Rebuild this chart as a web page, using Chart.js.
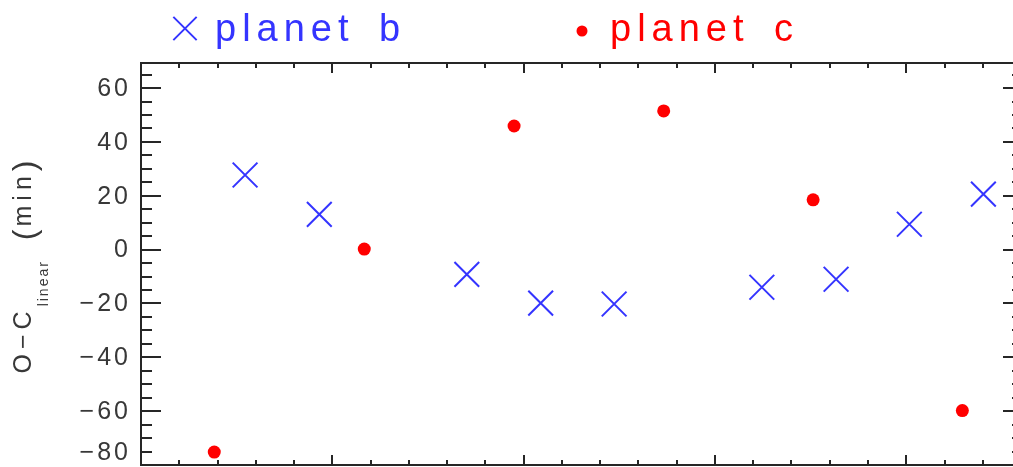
<!DOCTYPE html>
<html><head><meta charset="utf-8">
<script src="https://cdn.jsdelivr.net/npm/chart.js@4.4.1/dist/chart.umd.min.js"></script>
<style>html,body{margin:0;padding:0;overflow:hidden;background:#fff;width:1013px;height:467px}canvas{display:block}</style>
</head><body>
<canvas id="c" width="1030" height="467"></canvas>
<script>
// ---- data ----
const seriesNames = ['planet b', 'planet c'];
const planetBX = [0.544, 0.932, 1.703, 2.089, 2.473, 3.245, 3.633, 4.016, 4.403];
const planetBY = [27.7, 13.1, -9.2, -19.9, -20.2, -14.0, -11.0, 9.4, 20.6];
const planetCX = [0.383, 1.167, 1.950, 2.732, 3.513, 4.293];
const planetCY = [-75.2, 0.2, 45.9, 51.5, 18.5, -59.8];
const yTickLabels = [-80, -60, -40, -20, 0, 20, 40, 60];
const yMinorStep = 5;
const xMajorTicks = [0, 1, 2, 3, 4];
const xMinorStep = 0.2;
const yTitleMain = 'O\u2212C';
const yTitleSub = 'linear';
const yTitleUnit = 'min';

const BLUE = 'rgb(52,52,255)';
const RED = 'rgb(255,0,0)';
const INK = '#262626';

function pts(xs, ys) { return xs.map((x, i) => ({ x: x, y: ys[i] })); }

const axisPlugin = {
  id: 'idlAxes',
  afterDatasetsDraw(chart) {
    const ctx = chart.ctx, a = chart.chartArea;
    const xs = chart.scales.x, ys = chart.scales.y;
    ctx.save();
    ctx.strokeStyle = INK;
    ctx.lineWidth = 2;
    ctx.strokeRect(a.left, a.top, a.right - a.left, a.bottom - a.top);
    ctx.beginPath();
    const yMin = ys.min, yMax = ys.max;
    for (let k = 0; ; k++) {
      const v = yMin + k * yMinorStep;
      if (v > yMax) break;
      const p = Math.round(ys.getPixelForValue(v));
      const major = yTickLabels.includes(v);
      const len = major ? 20 : 11;
      ctx.moveTo(a.left, p); ctx.lineTo(a.left + len, p);
      ctx.moveTo(a.right, p); ctx.lineTo(a.right - len, p);
    }
    const xMin = xs.min, xMax = xs.max;
    for (let k = 0; ; k++) {
      const v = xMin + k * xMinorStep;
      if (v > xMax + 1e-9) break;
      const p = Math.round(xs.getPixelForValue(v));
      const major = xMajorTicks.some(t => Math.abs(t - v) < 1e-6);
      const len = major ? 10 : 5;
      ctx.moveTo(p, a.top); ctx.lineTo(p, a.top + len);
      ctx.moveTo(p, a.bottom); ctx.lineTo(p, a.bottom - len);
    }
    ctx.stroke();

    // y tick labels
    ctx.fillStyle = '#383838';
    ctx.font = '25px "Liberation Sans", Arial, sans-serif';
    const ls = 3;
    if ('letterSpacing' in ctx) ctx.letterSpacing = ls + 'px';
    ctx.textAlign = 'right';
    ctx.textBaseline = 'middle';
    yTickLabels.forEach(v => {
      const p = ys.getPixelForValue(v);
      const txt = v < 0 ? '\u2212' + Math.abs(v) : String(v);
      ctx.fillText(txt, 128 + ls, Math.min(p + 1, chart.height - 14));
    });

    // y axis title (rotated)
    ctx.translate(31, 265.5);
    ctx.rotate(-Math.PI / 2);
    ctx.textAlign = 'left';
    ctx.textBaseline = 'alphabetic';
    const mainFont = '25px "Liberation Sans", Arial, sans-serif';
    const subFont = '14px "Liberation Sans", Arial, sans-serif';
    const parFont = '32px "Liberation Sans", Arial, sans-serif';
    const setLS = (v) => { if ('letterSpacing' in ctx) ctx.letterSpacing = v + 'px'; };
    ctx.font = mainFont; setLS(5);
    const w1 = ctx.measureText(yTitleMain).width;
    ctx.font = subFont; setLS(2);
    const w2 = ctx.measureText(yTitleSub).width;
    ctx.font = parFont; setLS(3);
    const wp = ctx.measureText('(').width;
    ctx.font = mainFont; setLS(5);
    const wm = ctx.measureText(yTitleUnit).width;
    const gap = 20;
    const total = w1 + w2 + gap + wp * 2 + wm;
    let t = -total / 2;
    ctx.font = mainFont; setLS(5);
    ctx.fillText(yTitleMain, t, 0); t += w1;
    ctx.font = subFont; setLS(2);
    ctx.fillText(yTitleSub, t, 17); t += w2 + gap;
    ctx.font = parFont; setLS(3);
    ctx.fillText('(', t, 4); t += wp;
    ctx.font = mainFont; setLS(5);
    ctx.fillText(yTitleUnit, t, 0); t += wm;
    ctx.font = parFont; setLS(3);
    ctx.fillText(')', t, 4);
    ctx.restore();

    // legend
    ctx.save();
    const dsB = chart.data.datasets[0], dsC = chart.data.datasets[1];
    ctx.strokeStyle = dsB.borderColor; ctx.lineWidth = 2;
    Chart.helpers.drawPoint(ctx, { pointStyle: dsB.pointStyle, radius: 16.5, rotation: 0, borderWidth: 2 }, 185, 28.5);
    ctx.fillStyle = dsC.backgroundColor;
    Chart.helpers.drawPoint(ctx, { pointStyle: dsC.pointStyle, radius: 5.5, rotation: 0, borderWidth: 0 }, 582, 31);
    ctx.font = '38px "Liberation Sans", Arial, sans-serif';
    if ('letterSpacing' in ctx) ctx.letterSpacing = '6px';
    if ('wordSpacing' in ctx) ctx.wordSpacing = '8px';
    ctx.textAlign = 'left';
    ctx.textBaseline = 'alphabetic';
    ctx.fillStyle = dsB.borderColor;
    ctx.fillText(dsB.label, 215, 41);
    ctx.fillStyle = dsC.backgroundColor;
    ctx.fillText(dsC.label, 610, 41);
    ctx.restore();
  }
};

new Chart(document.getElementById('c'), {
  type: 'scatter',
  data: {
    datasets: [
      {
        label: seriesNames[0],
        data: pts(planetBX, planetBY),
        pointStyle: 'crossRot',
        pointRadius: 17.5,
        pointHoverRadius: 17.5,
        borderColor: BLUE,
        backgroundColor: BLUE,
        pointBorderWidth: 2,
        borderWidth: 2,
        showLine: false,
        clip: false
      },
      {
        label: seriesNames[1],
        data: pts(planetCX, planetCY),
        pointStyle: 'circle',
        pointRadius: 6.5,
        pointHoverRadius: 6.5,
        borderColor: RED,
        backgroundColor: RED,
        pointBorderWidth: 0,
        borderWidth: 0,
        showLine: false,
        clip: false
      }
    ]
  },
  options: {
    responsive: false,
    animation: false,
    events: [],
    layout: { autoPadding: false, padding: { left: 141, top: 63, right: 7, bottom: 2 } },
    plugins: { legend: { display: false }, tooltip: { enabled: false } },
    scales: {
      x: { type: 'linear', min: 0, max: 4.61, display: false },
      y: { type: 'linear', min: -80, max: 69.3, display: false }
    }
  },
  plugins: [axisPlugin]
});
</script>
</body></html>
